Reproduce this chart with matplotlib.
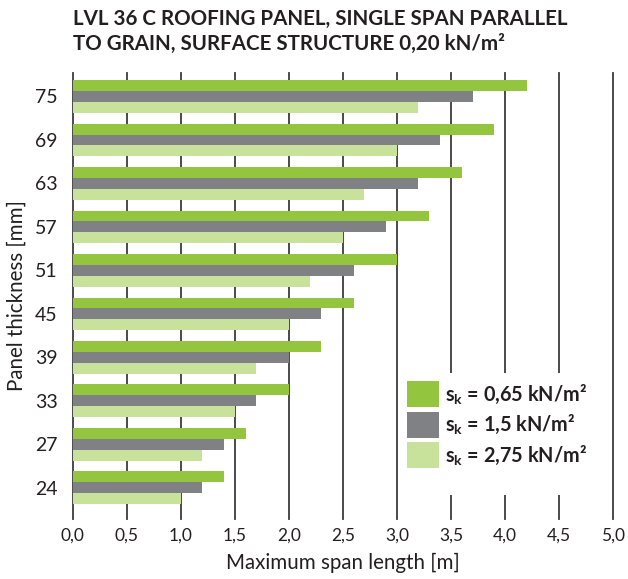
import matplotlib
matplotlib.use("Agg")
import matplotlib.pyplot as plt
import numpy as np
from matplotlib.patches import Rectangle

plt.rcParams["font.family"] = ["Lato", "DejaVu Sans"]
plt.rcParams["mathtext.fontset"] = "custom"
plt.rcParams["mathtext.rm"] = "Lato"
plt.rcParams["mathtext.bf"] = "Lato:bold"
plt.rcParams["mathtext.it"] = "Lato:italic"

# Panel thickness groups (top to bottom) and maximum spans [m]
thickness = ["75", "69", "63", "57", "51", "45", "39", "33", "27", "24"]
span_sk_065 = [4.2, 3.9, 3.6, 3.3, 3.0, 2.6, 2.3, 2.0, 1.6, 1.4]
span_sk_150 = [3.7, 3.4, 3.2, 2.9, 2.6, 2.3, 2.0, 1.7, 1.4, 1.2]
span_sk_275 = [3.2, 3.0, 2.7, 2.5, 2.2, 2.0, 1.7, 1.5, 1.2, 1.0]
series_labels = [r"$\mathbf{s_k}$ = 0,65 kN/m²",
                 r"$\mathbf{s_k}$ = 1,5 kN/m²",
                 r"$\mathbf{s_k}$ = 2,75 kN/m²"]
x_ticks = [0.0, 0.5, 1.0, 1.5, 2.0, 2.5, 3.0, 3.5, 4.0, 4.5, 5.0]
x_ticklabels = ["0,0", "0,5", "1,0", "1,5", "2,0", "2,5", "3,0", "3,5", "4,0", "4,5", "5,0"]

colors = ["#93c63e", "#808184", "#c8e29c"]
text_color = "#231f20"
grid_color = "#3c3c3e"

W, H = 628, 579
fig = plt.figure(figsize=(W / 100, H / 100), dpi=100)
ax_left, ax_right, ax_top, ax_bottom = 72.7, 613.0, 73.0, 519.0
ax = fig.add_axes([ax_left / W, 1 - ax_bottom / H,
                   (ax_right - ax_left) / W, (ax_bottom - ax_top) / H])

y = np.arange(len(thickness))
bar_h = 0.25
for k, (vals, col, lab) in enumerate(zip([span_sk_065, span_sk_150, span_sk_275],
                                         colors, series_labels)):
    ax.barh(y + (k - 1) * bar_h, vals, height=bar_h, color=col,
            label=lab, zorder=2, linewidth=0)

ax.set_xlim(0, 5)
ax.set_ylim(9.72, -0.54)

for xv in x_ticks:
    ax.axvline(xv, color=grid_color, lw=1.3, zorder=1, clip_on=False)

for s in ax.spines.values():
    s.set_visible(False)

ax.set_xticks(x_ticks)
ax.set_xticklabels(x_ticklabels, fontsize=12.5, color=text_color)
ax.set_yticks(y)
ax.set_yticklabels(thickness, fontsize=14, color=text_color)
ax.tick_params(axis="both", length=0)
ax.tick_params(axis="x", pad=6)
ax.tick_params(axis="y", pad=11)
ax.set_xlabel("Maximum span length [m]", fontsize=14.8, color=text_color, labelpad=7)
ax.set_ylabel("Panel thickness [mm]", fontsize=14.8, color=text_color, labelpad=6)

# white panel behind the legend
ax_w = ax_right - ax_left
ax_hh = ax_bottom - ax_top
rx0, rx1, ry0, ry1 = 399.5, 611.5, 373.0, 495.0
ax.add_patch(Rectangle(((rx0 - ax_left) / ax_w, (ax_bottom - ry1) / ax_hh),
                       (rx1 - rx0) / ax_w, (ry1 - ry0) / ax_hh,
                       transform=ax.transAxes, facecolor="white",
                       edgecolor="none", zorder=3, clip_on=False))

leg_size = 14.3
leg = ax.legend(loc="upper left", bbox_to_anchor=(407 / W, 1 - 381 / H),
                bbox_transform=fig.transFigure, frameon=False, borderpad=0,
                borderaxespad=0, handlelength=1.62, handleheight=1.62,
                handletextpad=0.28, labelspacing=0.25,
                prop={"size": leg_size, "weight": "bold"})
leg.set_zorder(5)
for t in leg.get_texts():
    t.set_color(text_color)

fig.text(73 / W, 1 - 9 / H,
         "LVL 36 C ROOFING PANEL, SINGLE SPAN PARALLEL\nTO GRAIN, SURFACE STRUCTURE 0,20 kN/m²",
         ha="left", va="top", fontsize=14.8, fontweight="bold",
         color=text_color, linespacing=1.3)

fig.savefig("out.png", dpi=100)
